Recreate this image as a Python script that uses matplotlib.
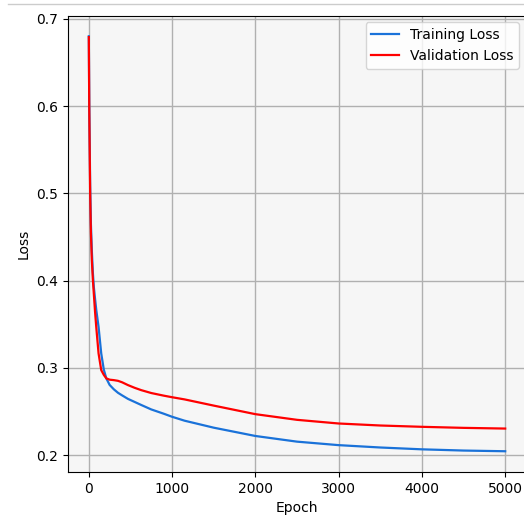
import matplotlib
matplotlib.use("Agg")
import matplotlib.pyplot as plt
from matplotlib.lines import Line2D

# epochs and loss values
epochs = [0, 5, 16, 25, 36, 48, 60, 75, 90, 117, 149, 180, 210, 250, 300, 350,
          400, 470, 550, 630, 750, 900, 1000, 1150, 1500, 2000, 2500, 3000,
          3500, 4000, 4500, 5000]
train_loss = [0.680, 0.605, 0.510, 0.465, 0.435, 0.410, 0.393, 0.379, 0.366,
              0.347, 0.3166, 0.298, 0.288, 0.2805, 0.2755, 0.2715, 0.2685,
              0.2645, 0.261, 0.2575, 0.2524, 0.2475, 0.2440, 0.2395, 0.2315,
              0.222, 0.2155, 0.2115, 0.2088, 0.2067, 0.2053, 0.2045]
val_loss = [0.679, 0.598, 0.500, 0.455, 0.424, 0.402, 0.385, 0.364, 0.346,
            0.3166, 0.2975, 0.292, 0.288, 0.2865, 0.2860, 0.2852, 0.2835,
            0.2803, 0.2772, 0.2745, 0.2712, 0.2682, 0.2664, 0.2639, 0.2568,
            0.247, 0.2405, 0.2363, 0.2340, 0.2325, 0.2313, 0.2305]

fig = plt.figure(figsize=(5.24, 5.21), dpi=100)
# axes run a little past the right edge, as in the (cropped) reference
ax = fig.add_axes([68 / 524, 49 / 521, 458 / 524, 456.5 / 521])
ax.set_facecolor("#f6f6f6")

ax.plot(epochs, train_loss, color="#1a72d9", linewidth=1.6, label="Training Loss")
ax.plot(epochs, val_loss, color="red", linewidth=1.6, label="Validation Loss")

ax.set_xlabel("Epoch")
ax.set_ylabel("Loss")
ax.set_xticks([0, 1000, 2000, 3000, 4000, 5000])
ax.set_yticks([0.2, 0.3, 0.4, 0.5, 0.6, 0.7])
ax.grid(True, color="#b0b0b0", linewidth=1.0)
ax.set_axisbelow(True)
ax.spines["right"].set_visible(False)
ax.legend(loc="upper right")

# thin separator line at the top of the screenshot
fig.add_artist(Line2D([8 / 524, 1.0], [1 - 4.3 / 521, 1 - 4.3 / 521],
                      color="#cccccc", linewidth=1.0))

fig.savefig("out.png", dpi=100)
